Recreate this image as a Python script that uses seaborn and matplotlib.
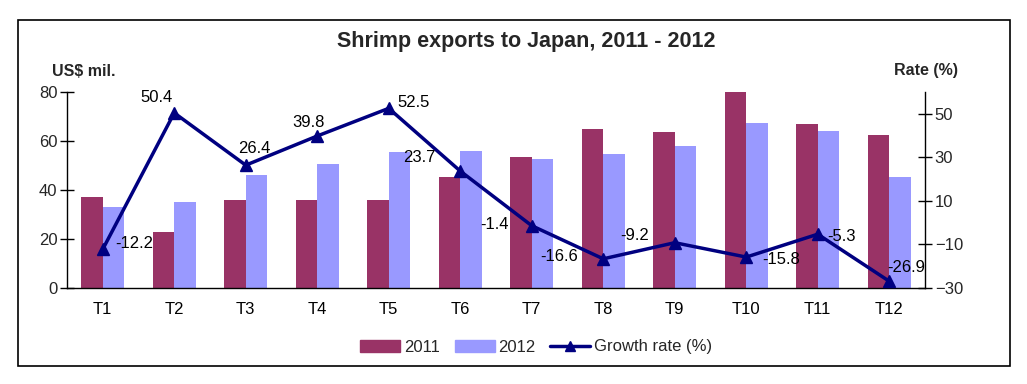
import numpy as np
import pandas as pd
import matplotlib
matplotlib.use("Agg")
import matplotlib.pyplot as plt
import matplotlib.patches as mpatches
import matplotlib.lines as mlines
import seaborn as sns

# Chart data
months = ["T1", "T2", "T3", "T4", "T5", "T6", "T7", "T8", "T9", "T10", "T11", "T12"]
exports_2011 = [37, 23, 36, 36, 36, 45.5, 53.5, 65, 63.5, 80, 67, 62.5]
exports_2012 = [33, 35, 46, 50.5, 55.5, 56, 52.5, 54.5, 58, 67.5, 64, 45.5]
growth_rate = [-12.2, 50.4, 26.4, 39.8, 52.5, 23.7, -1.4, -16.6, -9.2, -15.8, -5.3, -26.9]

# label offsets (points) for each data label, as placed in the original
label_offsets = [(23, 4), (-13, 11), (6, 12), (-6, 10), (18, 4), (-29.5, 10),
                 (-27, 1), (-32, 2), (-29, 5), (25, -2), (17, -2), (12, 10)]

sns.set_theme(style="white")
plt.rcParams["font.family"] = ["Liberation Sans", "DejaVu Sans"]

df = pd.DataFrame({
    "month": months * 2,
    "value": exports_2011 + exports_2012,
    "year": ["2011"] * len(months) + ["2012"] * len(months),
})
palette = {"2011": "#993366", "2012": "#9999FF"}

fig = plt.figure(figsize=(10.27, 3.84), dpi=100)
ax = fig.add_axes([67 / 1027, 1 - 288 / 384, (925 - 67) / 1027, (288 - 92) / 384])

sns.barplot(data=df, x="month", y="value", hue="year", palette=palette,
            width=0.6, saturation=1, linewidth=0, edgecolor="none", ax=ax, legend=False)
ax.set_xlim(-0.5, len(months) - 0.5)
ax.set_ylim(0, 80)
ax.set_yticks([0, 20, 40, 60, 80])
ax.set_xlabel("")
ax.set_ylabel("")

# tick marks between categories
ax.set_xticks(np.arange(-0.5, len(months), 1), minor=True)
ax.tick_params(axis="x", which="major", length=0, pad=10, labelsize=12, colors="black")
ax.tick_params(axis="x", which="minor", length=6, width=1, color="black", direction="out")
ax.tick_params(axis="y", length=10, width=1, color="black", direction="inout",
               labelsize=12, left=True, pad=2)
for s in ["top", "right"]:
    ax.spines[s].set_visible(False)
for s in ["left", "bottom"]:
    ax.spines[s].set_color("black")
    ax.spines[s].set_linewidth(1)

ax2 = ax.twinx()
x_pos = np.arange(len(months))
ax2.plot(x_pos, growth_rate, color="#000080", linewidth=2.5, marker="^",
         markersize=8, zorder=5, clip_on=False)
ax2.set_ylim(-30, 60)
ax2.set_yticks([-30, -10, 10, 30, 50])
ax2.tick_params(axis="y", length=10, width=1, color="black", direction="inout",
                labelsize=12, right=True, pad=2)
for s in ["top", "left", "bottom"]:
    ax2.spines[s].set_visible(False)
ax2.spines["right"].set_color("black")
ax2.spines["right"].set_linewidth(1)
ax2.grid(False)
ax.grid(False)

for xi, val, off in zip(x_pos, growth_rate, label_offsets):
    ax2.annotate(f"{val}", (xi, val), xytext=off, textcoords="offset points",
                 ha="center", va="center", fontsize=12, color="black", zorder=6)

fig.text(526 / 1027, 1 - 42 / 384, "Shrimp exports to Japan, 2011 - 2012",
         ha="center", va="center", fontsize=15.5, fontweight="bold")
fig.text(84 / 1027, 1 - 71 / 384, "US$ mil.", ha="center", va="center",
         fontsize=11.5, fontweight="bold")
fig.text(926 / 1027, 1 - 71 / 384, "Rate (%)", ha="center", va="center",
         fontsize=11.5, fontweight="bold")

handles = [
    mpatches.Patch(color="#993366", label="2011"),
    mpatches.Patch(color="#9999FF", label="2012"),
    mlines.Line2D([], [], color="#000080", linewidth=2.5, marker="^", markersize=7,
                  label="Growth rate (%)"),
]
fig.legend(handles=handles, loc="center", bbox_to_anchor=(536 / 1027, 1 - 347 / 384),
           ncol=3, frameon=False, fontsize=12, handlelength=2.4, handletextpad=0.2,
           columnspacing=0.9, handleheight=0.7)

border = mpatches.Rectangle((18 / 1027, 1 - 366 / 384), (1010 - 18) / 1027, (366 - 20) / 384,
                            transform=fig.transFigure, fill=False, edgecolor="black",
                            linewidth=1.2)
fig.patches.append(border)

fig.savefig("out.png", dpi=100)
